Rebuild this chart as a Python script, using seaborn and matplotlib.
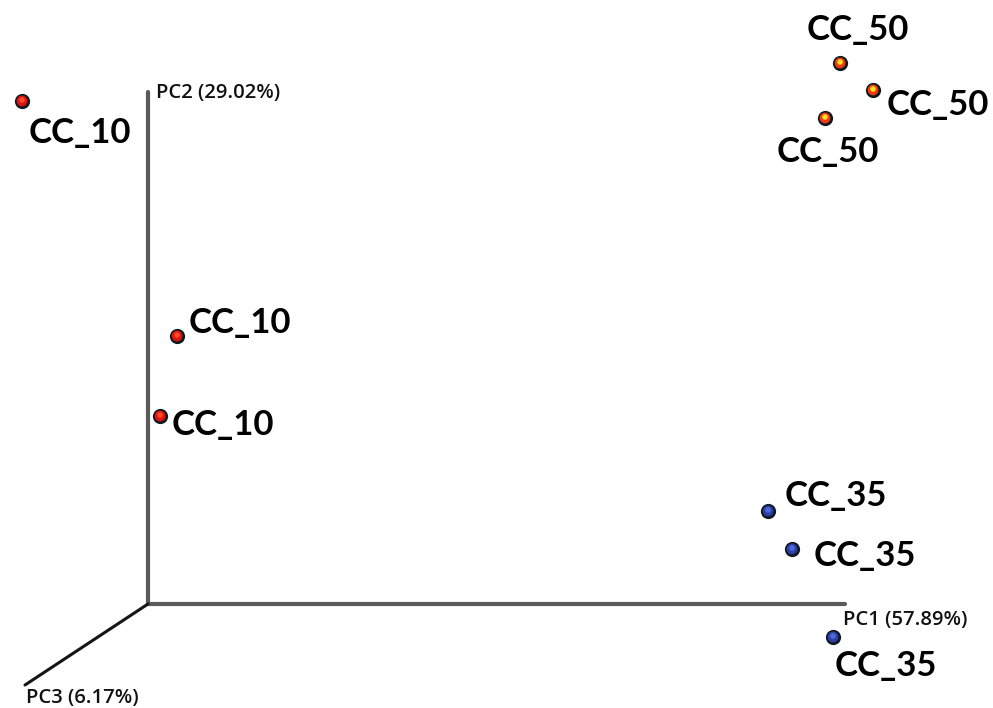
import matplotlib
matplotlib.use("Agg")
import matplotlib.pyplot as plt
import seaborn as sns
import pandas as pd

# projected positions of the samples on the 3-D PCA view (picture units)
samples = ["CC_10", "CC_10", "CC_10", "CC_50", "CC_50", "CC_50", "CC_35", "CC_35", "CC_35"]
proj_x = [22, 177, 160, 840, 873, 825, 768, 792, 833]
proj_y = [101, 336, 416, 63, 90, 118, 511, 549, 637]
label_x = [29, 189, 172, 807, 887, 777, 785, 814, 835]
label_y = [133, 323, 425, 30, 105, 152, 496, 556, 666]

axis_names = ["PC1 (57.89%)", "PC2 (29.02%)", "PC3 (6.17%)"]
origin = (148, 604)
axis_ends = [(845, 604), (148, 92), (25, 685)]
axis_label_pos = [(843, 620), (156, 93), (26, 698)]

group_colors = {"CC_10": "#e0140f", "CC_50": "#f03a10", "CC_35": "#2c3fa6"}
highlight = {"CC_10": "#ff4a2a", "CC_50": "#ffe020", "CC_35": "#4d6ad8"}

df = pd.DataFrame({"sample": samples, "x": proj_x, "y": proj_y})

sns.set_theme(style="white")
plt.rcParams["font.family"] = ["Lato", "DejaVu Sans"]

fig = plt.figure(figsize=(9.93, 7.08), dpi=100)
ax = fig.add_axes([0, 0, 1, 1])
ax.set_xlim(0, 993)
ax.set_ylim(708, 0)
ax.axis("off")

# axes of the 3-D frame
lw = [3.0, 3.0, 2.2]
cols = ["#5a5a5a", "#5a5a5a", "#151515"]
for (ex, ey), w, c in zip(axis_ends, lw, cols):
    sns.lineplot(x=[origin[0], ex], y=[origin[1], ey], ax=ax, color=c, lw=w,
                 sort=False, estimator=None)

for name, (lx, ly) in zip(axis_names, axis_label_pos):
    ax.text(lx, ly, name, fontsize=14.6, fontweight="semibold", color="#111111",
            ha="left", va="center", family=["Open Sans", "DejaVu Sans"])

# sphere-like markers: dark halo, body, highlight
sns.scatterplot(data=df, x="x", y="y", ax=ax, color="#101820", s=120,
                linewidth=0, legend=False, zorder=3)
sns.scatterplot(data=df, x="x", y="y", hue="sample", palette=group_colors, ax=ax,
                s=60, linewidth=0, legend=False, zorder=4)
sns.scatterplot(data=df.assign(y=df["y"] - 1), x="x", y="y", hue="sample",
                palette=highlight, ax=ax, s=16, linewidth=0, legend=False, zorder=5)

for s, lx, ly in zip(samples, label_x, label_y):
    ax.text(lx, ly, s, fontsize=25, fontweight="bold", color="black",
            ha="left", va="center")

fig.savefig("out.png", dpi=100)
